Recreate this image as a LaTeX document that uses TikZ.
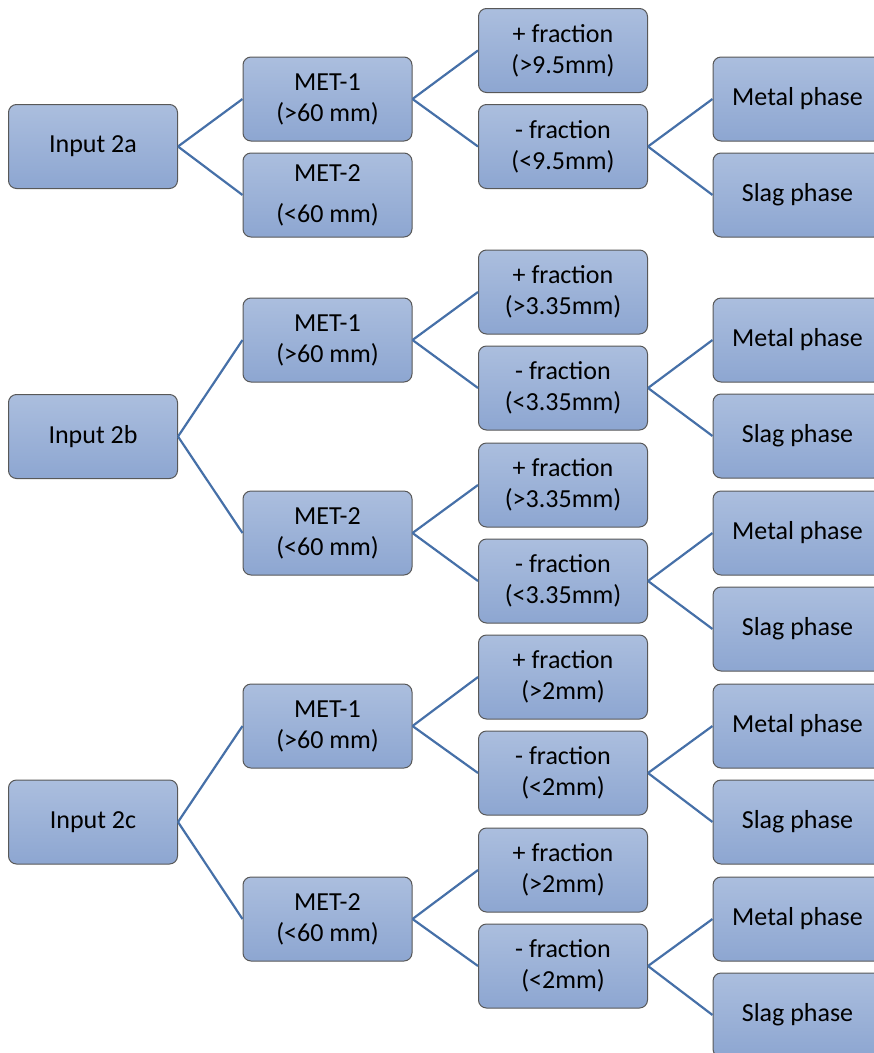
\documentclass[tikz,border=0pt]{standalone}
\usepackage{fontspec}
\setmainfont{Carlito}
\definecolor{boxtop}{RGB}{171,190,222}
\definecolor{boxbot}{RGB}{141,166,209}
\definecolor{boxline}{RGB}{88,88,88}
\definecolor{connc}{RGB}{70,112,168}
\begin{document}
\begin{tikzpicture}[x=1pt,y=-1pt,
  box/.style={draw=boxline, line width=1pt, rounded corners=8pt, top color=boxtop, bottom color=boxbot,
    minimum width=169pt, minimum height=84pt, inner sep=0pt, align=center,
    font=\fontsize{26}{31}\selectfont, text=black},
  link/.style={draw=connc, line width=2.2pt}]
\useasboundingbox (0,0) rectangle (874,1053);
\clip (0,0) rectangle (874,1053);
% ---------- 2a
\node[box] (i2a) at (93,146.5) {Input 2a};
\node[box] (a1) at (327.5,99) {MET-1\\(>60 mm)};
\node[box] (a2) at (327.5,195) {MET-2\\[10pt](<60 mm)};
\node[box] (a1p) at (563,50.5) {+ fraction\\(>9.5mm)};
\node[box] (a1m) at (563,146.5) {- fraction\\(<9.5mm)};
\node[box] (a1mM) at (797.5,99) {Metal phase};
\node[box] (a1mS) at (797.5,195) {Slag phase};
\draw[link] (i2a.east) -- (a1.west);
\draw[link] (i2a.east) -- (a2.west);
\draw[link] (a1.east) -- (a1p.west);
\draw[link] (a1.east) -- (a1m.west);
\draw[link] (a1m.east) -- (a1mM.west);
\draw[link] (a1m.east) -- (a1mS.west);
% ---------- 2b
\node[box] (i2b) at (93,436.5) {Input 2b};
\node[box] (b1) at (327.5,340) {MET-1\\(>60 mm)};
\node[box] (b2) at (327.5,533) {MET-2\\(<60 mm)};
\node[box] (b1p) at (563,292) {+ fraction\\(>3.35mm)};
\node[box] (b1m) at (563,388) {- fraction\\(<3.35mm)};
\node[box] (b1mM) at (797.5,340) {Metal phase};
\node[box] (b1mS) at (797.5,436) {Slag phase};
\node[box] (b2p) at (563,485) {+ fraction\\(>3.35mm)};
\node[box] (b2m) at (563,581) {- fraction\\(<3.35mm)};
\node[box] (b2mM) at (797.5,533) {Metal phase};
\node[box] (b2mS) at (797.5,629) {Slag phase};
\draw[link] (i2b.east) -- (b1.west);
\draw[link] (i2b.east) -- (b2.west);
\draw[link] (b1.east) -- (b1p.west);
\draw[link] (b1.east) -- (b1m.west);
\draw[link] (b1m.east) -- (b1mM.west);
\draw[link] (b1m.east) -- (b1mS.west);
\draw[link] (b2.east) -- (b2p.west);
\draw[link] (b2.east) -- (b2m.west);
\draw[link] (b2m.east) -- (b2mM.west);
\draw[link] (b2m.east) -- (b2mS.west);
% ---------- 2c
\node[box] (i2c) at (93,822) {Input 2c};
\node[box] (c1) at (327.5,726) {MET-1\\(>60 mm)};
\node[box] (c2) at (327.5,919) {MET-2\\(<60 mm)};
\node[box] (c1p) at (563,677) {+ fraction\\(>2mm)};
\node[box] (c1m) at (563,773) {- fraction\\(<2mm)};
\node[box] (c1mM) at (797.5,726) {Metal phase};
\node[box] (c1mS) at (797.5,822) {Slag phase};
\node[box] (c2p) at (563,870) {+ fraction\\(>2mm)};
\node[box] (c2m) at (563,966) {- fraction\\(<2mm)};
\node[box] (c2mM) at (797.5,919) {Metal phase};
\node[box] (c2mS) at (797.5,1015) {Slag phase};
\draw[link] (i2c.east) -- (c1.west);
\draw[link] (i2c.east) -- (c2.west);
\draw[link] (c1.east) -- (c1p.west);
\draw[link] (c1.east) -- (c1m.west);
\draw[link] (c1m.east) -- (c1mM.west);
\draw[link] (c1m.east) -- (c1mS.west);
\draw[link] (c2.east) -- (c2p.west);
\draw[link] (c2.east) -- (c2m.west);
\draw[link] (c2m.east) -- (c2mM.west);
\draw[link] (c2m.east) -- (c2mS.west);
\end{tikzpicture}
\end{document}
